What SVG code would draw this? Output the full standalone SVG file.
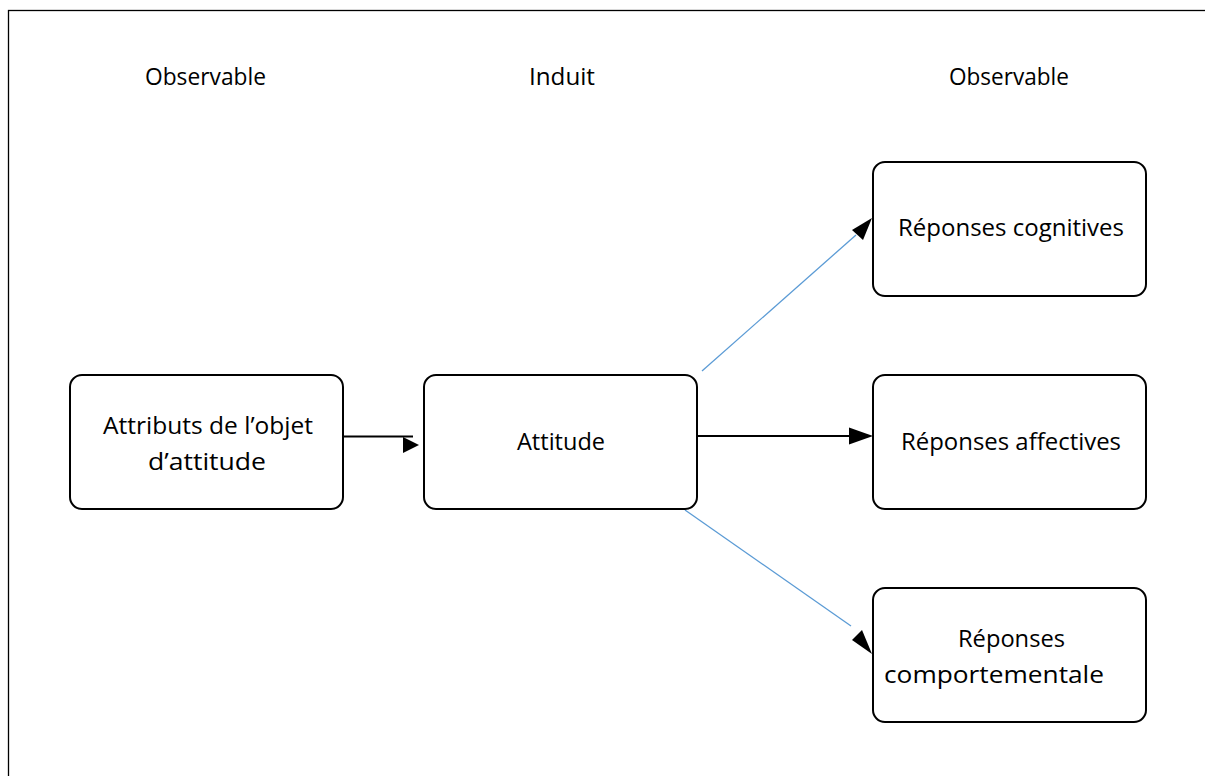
<svg xmlns="http://www.w3.org/2000/svg" width="1205" height="776" viewBox="0 0 1205 776">
  <style>
    .frame { fill: none; stroke: #000; stroke-width: 1.3; }
    .box { fill: #fff; stroke: #000; stroke-width: 2; }
    .lbl { font-family: "Open Sans", "Liberation Sans", sans-serif; font-size: 24px; fill: #000; text-anchor: middle; }
    .black { stroke: #000; stroke-width: 2; fill: none; }
    .blue { stroke: #5b9bd5; stroke-width: 1.3; fill: none; }
    .head { fill: #000; stroke: none; }
  </style>

  <rect width="1205" height="776" fill="#fff"/>
  <rect class="frame" x="8.5" y="10.5" width="1220" height="800"/>

  <!-- column headings -->
  <g id="headings">
    <text class="lbl" x="205.5" y="85" textLength="121" lengthAdjust="spacingAndGlyphs">Observable</text>
    <text class="lbl" x="562" y="85" textLength="66" lengthAdjust="spacingAndGlyphs">Induit</text>
    <text class="lbl" x="1009" y="85" textLength="120" lengthAdjust="spacingAndGlyphs">Observable</text>
  </g>

  <g id="connectors">
    <!-- attributes -> attitude (head sits slightly below the line) -->
    <line class="black" x1="343" y1="436.5" x2="413" y2="436.5"/>
    <polygon class="head" points="403,437 419,445 403,453"/>
    <!-- attitude -> affective -->
    <line class="black" x1="697" y1="436" x2="852" y2="436"/>
    <polygon class="head" points="849,427.5 873,436 849,444.5"/>
    <!-- attitude -> cognitive -->
    <line class="blue" x1="702" y1="371" x2="856" y2="235"/>
    <polygon class="head" points="872,218 863,240 852,230"/>
    <!-- attitude -> behavioural -->
    <line class="blue" x1="685" y1="510" x2="851" y2="626"/>
    <polygon class="head" points="872,654 852,640 862,630"/>
  </g>

  <g id="node-attributs">
    <rect class="box" x="70" y="375" width="273" height="134" rx="12"/>
    <text class="lbl" x="208" y="434" textLength="210" lengthAdjust="spacingAndGlyphs">Attributs de l’objet</text>
    <text class="lbl" x="207" y="470" textLength="118" lengthAdjust="spacingAndGlyphs">d’attitude</text>
  </g>

  <g id="node-attitude">
    <rect class="box" x="424" y="375" width="273" height="134" rx="12"/>
    <text class="lbl" x="561" y="450" textLength="88" lengthAdjust="spacingAndGlyphs">Attitude</text>
  </g>

  <g id="node-cognitives">
    <rect class="box" x="873" y="162" width="273" height="134" rx="12"/>
    <text class="lbl" x="1011" y="236" textLength="226" lengthAdjust="spacingAndGlyphs">Réponses cognitives</text>
  </g>

  <g id="node-affectives">
    <rect class="box" x="873" y="375" width="273" height="134" rx="12"/>
    <text class="lbl" x="1011" y="450" textLength="220" lengthAdjust="spacingAndGlyphs">Réponses affectives</text>
  </g>

  <g id="node-comportementale">
    <rect class="box" x="873" y="588" width="273" height="134" rx="12"/>
    <text class="lbl" x="1011.5" y="647" textLength="107" lengthAdjust="spacingAndGlyphs">Réponses</text>
    <text class="lbl" x="994" y="683" textLength="220" lengthAdjust="spacingAndGlyphs">comportementale</text>
  </g>
</svg>
